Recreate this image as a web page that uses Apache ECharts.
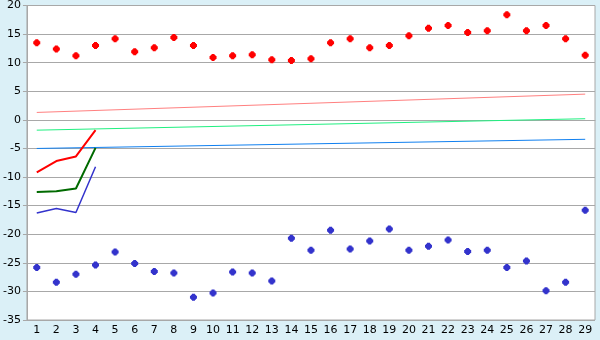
<!DOCTYPE html>
<html><head><meta charset="utf-8">
<script src="https://cdn.jsdelivr.net/npm/echarts@6/dist/echarts.min.js"></script>
<style>html,body{margin:0;padding:0;background:#DBF0F7}#c{width:600px;height:340px}</style>
</head><body><div id="c"></div>
<script>
const categories = ['1','2','3','4','5','6','7','8','9','10','11','12','13','14','15','16','17','18','19','20','21','22','23','24','25','26','27','28','29'];
const redPoints = [13.5,12.4,11.2,13.0,14.2,11.9,12.6,14.4,13.0,10.9,11.2,11.4,10.5,10.4,10.7,13.5,14.2,12.6,13.0,14.7,16.0,16.5,15.3,15.6,18.4,15.6,16.5,14.2,11.3];
const bluePoints = [-25.8,-28.4,-27.0,-25.4,-23.1,-25.1,-26.5,-26.8,-31.0,-30.3,-26.6,-26.8,-28.2,-20.7,-22.8,-19.3,-22.6,-21.2,-19.1,-22.8,-22.1,-21.0,-23.0,-22.8,-25.8,-24.7,-29.9,-28.4,-15.8];
const redThick = [-9.2,-7.2,-6.4,-1.8];
const greenThick = [-12.6,-12.5,-12.0,-4.9];
const blueThick = [-16.3,-15.5,-16.2,-8.2];
const redTrend = [[0,1.3],[28,4.5]];
const greenTrend = [[0,-1.8],[28,0.2]];
const blueTrend = [[0,-5.0],[28,-3.4]];

const marker = 'path://M2,0H5V1H6V2H7V5H6V6H5V7H2V6H1V5H0V2H1V1H2Z';
const chart = echarts.init(document.getElementById('c'));
const font = 'DejaVu Sans';
chart.setOption({
  backgroundColor: '#DBF0F7',
  animation: false,
  grid: {left: 26, right: 5, top: 5, bottom: 20, show: true, backgroundColor: '#fff', borderColor: '#A8A8A8', borderWidth: 1},
  xAxis: {
    type: 'category', data: categories, boundaryGap: true,
    axisLine: {lineStyle: {color: '#A8A8A8'}},
    axisTick: {alignWithLabel: true, length: 4, lineStyle: {color: '#A8A8A8'}},
    axisLabel: {color: '#000', fontFamily: font, fontSize: 11, margin: 5, interval: 0},
    splitLine: {show: false}
  },
  yAxis: {
    type: 'value', min: -35, max: 20, interval: 5,
    axisLine: {show: true, lineStyle: {color: '#A8A8A8'}},
    axisTick: {show: true, length: 4, lineStyle: {color: '#A8A8A8'}},
    axisLabel: {color: '#000', fontFamily: font, fontSize: 11, margin: 6},
    splitLine: {lineStyle: {color: '#A8A8A8', width: 1}}
  },
  series: [
    {type: 'line', data: redTrend, symbol: 'none', lineStyle: {color: '#FF8080', width: 1}},
    {type: 'line', data: greenTrend, symbol: 'none', lineStyle: {color: '#20F080', width: 1}},
    {type: 'line', data: blueTrend, symbol: 'none', lineStyle: {color: '#1080F0', width: 1}},
    {type: 'line', data: redThick, symbol: 'none', lineStyle: {color: '#FF0000', width: 2}},
    {type: 'line', data: greenThick, symbol: 'none', lineStyle: {color: '#006A00', width: 2}},
    {type: 'line', data: blueThick, symbol: 'none', lineStyle: {color: '#3333CC', width: 1.5}},
    {type: 'scatter', data: redPoints, symbol: marker, symbolSize: 7, itemStyle: {color: '#FF0000', opacity: 1}, z: 5},
    {type: 'scatter', data: bluePoints, symbol: marker, symbolSize: 7, itemStyle: {color: '#3333CC', opacity: 1}, z: 5}
  ]
});
</script></body></html>
